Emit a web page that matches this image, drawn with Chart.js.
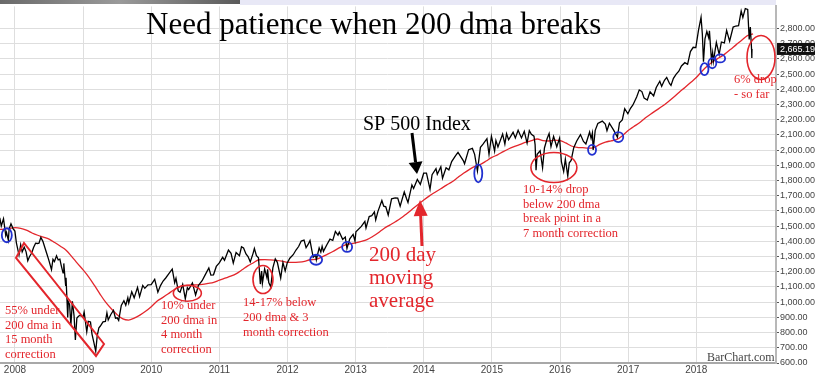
<!DOCTYPE html>
<html>
<head>
<meta charset="utf-8">
<script src="https://cdn.jsdelivr.net/npm/chart.js@4.4.1/dist/chart.umd.min.js"></script>
<style>
  html, body { margin: 0; padding: 0; background: #fff; }
  canvas { display: block; }
</style>
</head>
<body>
<canvas id="spx" width="815" height="376"></canvas>
<script>
// S&P 500 closes (about two a month, plus the swing highs/lows)
const spxDates = [
  '2007-10-11','2007-10-19','2007-10-31','2007-11-12','2007-11-16','2007-11-26','2007-11-30','2007-12-10','2007-12-21','2007-12-31',
  '2008-01-08','2008-01-22','2008-01-31','2008-02-08','2008-02-19','2008-02-29','2008-03-10','2008-03-19','2008-03-31','2008-04-10',
  '2008-04-21','2008-04-30','2008-05-09','2008-05-19','2008-05-30','2008-06-09','2008-06-20','2008-06-30','2008-07-15','2008-07-23',
  '2008-07-31','2008-08-11','2008-08-20','2008-08-29','2008-09-05','2008-09-15','2008-09-19','2008-09-29','2008-10-01','2008-10-10',
  '2008-10-13','2008-10-20','2008-10-27','2008-11-04','2008-11-13','2008-11-20','2008-11-28','2008-12-08','2008-12-16','2008-12-31',
  '2009-01-06','2009-01-20','2009-01-28','2009-02-09','2009-02-17','2009-02-27','2009-03-09','2009-03-17','2009-03-26','2009-04-03',
  '2009-04-17','2009-04-30','2009-05-08','2009-05-15','2009-05-29','2009-06-12','2009-06-23','2009-07-02','2009-07-10','2009-07-24',
  '2009-08-07','2009-08-17','2009-08-28','2009-09-02','2009-09-18','2009-10-01','2009-10-19','2009-10-30','2009-11-16','2009-11-27',
  '2009-12-14','2009-12-31','2010-01-19','2010-02-05','2010-02-19','2010-03-05','2010-03-19','2010-04-05','2010-04-23','2010-05-06',
  '2010-05-13','2010-05-25','2010-06-04','2010-06-18','2010-07-02','2010-07-13','2010-07-20','2010-08-09','2010-08-26','2010-09-10',
  '2010-09-30','2010-10-15','2010-11-05','2010-11-16','2010-11-30','2010-12-15','2010-12-31','2011-01-18','2011-01-28','2011-02-18',
  '2011-03-04','2011-03-16','2011-03-31','2011-04-18','2011-04-29','2011-05-10','2011-05-23','2011-06-03','2011-06-15','2011-06-30',
  '2011-07-07','2011-07-18','2011-07-29','2011-08-08','2011-08-15','2011-08-19','2011-08-31','2011-09-12','2011-09-16','2011-09-22',
  '2011-10-03','2011-10-14','2011-10-27','2011-11-07','2011-11-25','2011-12-07','2011-12-19','2011-12-30','2012-01-13','2012-01-31',
  '2012-02-15','2012-02-29','2012-03-15','2012-03-30','2012-04-10','2012-04-20','2012-05-01','2012-05-18','2012-05-31','2012-06-04',
  '2012-06-19','2012-06-28','2012-07-05','2012-07-12','2012-07-31','2012-08-16','2012-08-31','2012-09-14','2012-09-28','2012-10-05',
  '2012-10-23','2012-11-06','2012-11-15','2012-11-30','2012-12-18','2012-12-28','2013-01-02','2013-01-31','2013-02-19','2013-02-25',
  '2013-03-14','2013-03-28','2013-04-11','2013-04-18','2013-04-30','2013-05-21','2013-05-31','2013-06-11','2013-06-24','2013-07-12',
  '2013-07-31','2013-08-14','2013-08-27','2013-09-18','2013-09-30','2013-10-08','2013-10-29','2013-11-07','2013-11-27','2013-12-13',
  '2013-12-31','2014-01-15','2014-02-03','2014-02-14','2014-03-07','2014-03-14','2014-04-02','2014-04-11','2014-04-30','2014-05-15',
  '2014-05-30','2014-06-20','2014-07-03','2014-07-31','2014-08-07','2014-08-29','2014-09-18','2014-09-30','2014-10-15','2014-10-31',
  '2014-11-14','2014-12-05','2014-12-16','2014-12-29','2015-01-15','2015-01-22','2015-02-02','2015-02-27','2015-03-11','2015-03-20',
  '2015-03-31','2015-04-24','2015-05-06','2015-05-21','2015-06-08','2015-06-23','2015-07-08','2015-07-20','2015-07-31','2015-08-14',
  '2015-08-20','2015-08-25','2015-08-31','2015-09-16','2015-09-29','2015-10-09','2015-10-23','2015-11-03','2015-11-13','2015-11-27',
  '2015-12-14','2015-12-29','2016-01-08','2016-01-20','2016-01-29','2016-02-11','2016-02-19','2016-02-29','2016-03-15','2016-03-31',
  '2016-04-20','2016-05-06','2016-05-19','2016-06-08','2016-06-16','2016-06-23','2016-06-27','2016-07-08','2016-07-22','2016-08-15',
  '2016-08-31','2016-09-09','2016-09-22','2016-10-14','2016-11-04','2016-11-15','2016-11-30','2016-12-13','2016-12-30','2017-01-13',
  '2017-01-26','2017-02-15','2017-03-01','2017-03-15','2017-03-27','2017-04-13','2017-04-28','2017-05-17','2017-05-31','2017-06-19',
  '2017-06-29','2017-07-14','2017-07-26','2017-08-10','2017-08-18','2017-08-31','2017-09-15','2017-09-29','2017-10-13','2017-10-31',
  '2017-11-15','2017-11-30','2017-12-15','2017-12-29','2018-01-12','2018-01-26','2018-02-02','2018-02-08','2018-02-16','2018-02-26',
  '2018-03-08','2018-03-12','2018-03-23','2018-03-29','2018-04-02','2018-04-18','2018-05-03','2018-05-15','2018-05-31','2018-06-12',
  '2018-06-28','2018-07-17','2018-07-31','2018-08-15','2018-08-29','2018-09-07','2018-09-20','2018-10-03','2018-10-11','2018-10-17',
  '2018-10-24','2018-10-25','2018-10-26'
];
const spxClose = [
  1555,1501,1549,1439,1458,1407,1481,1515,1484,1468,
  1390,1310,1378,1331,1362,1331,1273,1299,1323,1360,
  1388,1386,1388,1426,1400,1361,1318,1280,1214,1282,
  1267,1305,1278,1283,1242,1193,1255,1106,1161,899,
  1003,985,848,1005,911,752,896,909,913,903,
  935,805,874,870,790,735,677,778,832,843,
  870,873,929,883,919,946,895,897,880,979,
  1010,980,1029,995,1068,1029,1097,1036,1110,1091,
  1114,1115,1150,1066,1109,1139,1159,1187,1217,1128,
  1157,1074,1065,1117,1022,1095,1083,1127,1047,1110,
  1141,1176,1225,1178,1180,1235,1258,1295,1276,1343,
  1321,1257,1326,1305,1364,1357,1317,1300,1265,1321,
  1353,1306,1292,1119,1204,1124,1219,1162,1216,1129,
  1099,1225,1285,1262,1159,1261,1206,1258,1289,1312,
  1343,1366,1402,1408,1358,1378,1405,1295,1310,1278,
  1357,1329,1367,1334,1379,1415,1406,1465,1441,1461,
  1413,1428,1353,1416,1446,1402,1462,1498,1531,1488,
  1563,1569,1593,1541,1597,1669,1631,1627,1573,1680,
  1686,1685,1631,1725,1682,1656,1771,1748,1807,1775,
  1848,1848,1742,1838,1878,1841,1890,1815,1884,1870,
  1924,1963,1985,1931,1910,2003,2011,1972,1862,2018,
  2039,2075,1972,2091,1993,2063,2020,2105,2040,2108,
  2068,2117,2080,2131,2080,2124,2046,2128,2104,2092,
  2036,1868,1972,1996,1884,2014,2075,2109,2023,2090,
  2022,2078,1922,1859,1940,1829,1917,1932,2016,2060,
  2102,2057,2040,2119,2077,2113,2001,2130,2175,2191,
  2171,2128,2177,2133,2085,2180,2199,2272,2239,2275,
  2297,2349,2396,2385,2342,2329,2384,2357,2412,2453,
  2419,2459,2478,2438,2425,2472,2500,2519,2553,2575,
  2564,2648,2676,2674,2786,2873,2762,2581,2732,2780,
  2739,2784,2588,2641,2582,2708,2630,2711,2705,2787,
  2716,2809,2816,2819,2914,2872,2931,2925,2728,2809,
  2656,2605,2665
];

// 200 day moving average, month-end readings
const dmaMonths = [
  '2007-09','2007-10','2007-11','2007-12',
  '2008-01','2008-02','2008-03','2008-04','2008-05','2008-06','2008-07','2008-08','2008-09','2008-10','2008-11','2008-12',
  '2009-01','2009-02','2009-03','2009-04','2009-05','2009-06','2009-07','2009-08','2009-09','2009-10','2009-11','2009-12',
  '2010-01','2010-02','2010-03','2010-04','2010-05','2010-06','2010-07','2010-08','2010-09','2010-10','2010-11','2010-12',
  '2011-01','2011-02','2011-03','2011-04','2011-05','2011-06','2011-07','2011-08','2011-09','2011-10','2011-11','2011-12',
  '2012-01','2012-02','2012-03','2012-04','2012-05','2012-06','2012-07','2012-08','2012-09','2012-10','2012-11','2012-12',
  '2013-01','2013-02','2013-03','2013-04','2013-05','2013-06','2013-07','2013-08','2013-09','2013-10','2013-11','2013-12',
  '2014-01','2014-02','2014-03','2014-04','2014-05','2014-06','2014-07','2014-08','2014-09','2014-10','2014-11','2014-12',
  '2015-01','2015-02','2015-03','2015-04','2015-05','2015-06','2015-07','2015-08','2015-09','2015-10','2015-11','2015-12',
  '2016-01','2016-02','2016-03','2016-04','2016-05','2016-06','2016-07','2016-08','2016-09','2016-10','2016-11','2016-12',
  '2017-01','2017-02','2017-03','2017-04','2017-05','2017-06','2017-07','2017-08','2017-09','2017-10','2017-11','2017-12',
  '2018-01','2018-02','2018-03','2018-04','2018-05','2018-06','2018-07','2018-08','2018-09','2018-10'
];
const dmaValues = [
  1478,1481,1485,1490,
  1486,1474,1455,1440,1428,1415,1392,1368,1342,1300,1255,1212,
  1165,1110,1052,998,955,918,890,882,895,915,940,970,
  1006,1030,1055,1082,1101,1109,1112,1114,1117,1123,1130,1145,
  1158,1171,1188,1213,1239,1259,1279,1280,1278,1275,1270,1262,
  1262,1264,1269,1279,1281,1296,1314,1333,1355,1374,1383,1390,
  1399,1411,1432,1457,1485,1507,1529,1553,1582,1612,1642,1672,
  1699,1723,1746,1770,1792,1820,1848,1872,1893,1906,1928,1952,
  1969,1990,2009,2024,2038,2052,2062,2073,2063,2060,2065,2063,
  2047,2027,2018,2016,2013,2017,2038,2053,2061,2070,2095,2129,
  2155,2180,2211,2238,2263,2288,2317,2348,2381,2412,2444,2477,
  2519,2554,2584,2607,2631,2661,2692,2722,2753,2765
];

const yearTicks = [2008, 2009, 2010, 2011, 2012, 2013, 2014, 2015, 2016, 2017, 2018];
const lastPrice = 2665.19;

// where the chart author circled things (x in years, y in index points)
const redRings = [
  { x: 2010.53, y: 1059, rx: 14, ry: 8 },
  { x: 2011.64, y: 1149, rx: 10, ry: 14 },
  { x: 2015.91, y: 1886, rx: 23, ry: 15 },
  { x: 2018.95, y: 2609, rx: 14, ry: 22 }
];
const blueRings = [
  { x: 2007.88, y: 1440, rx: 5, ry: 7 },
  { x: 2012.42, y: 1279, rx: 6, ry: 5 },
  { x: 2012.875, y: 1363, rx: 5, ry: 5 },
  { x: 2014.80, y: 1847, rx: 4, ry: 9 },
  { x: 2016.47, y: 2002, rx: 4, ry: 5 },
  { x: 2016.855, y: 2086, rx: 5, ry: 5 },
  { x: 2018.12, y: 2532, rx: 4, ry: 6 },
  { x: 2018.235, y: 2571, rx: 4, ry: 5 },
  { x: 2018.35, y: 2603, rx: 5, ry: 4 }
];

const CUM_DAYS = [0, 31, 59, 90, 120, 151, 181, 212, 243, 273, 304, 334];
function toYear(s) {
  const [y, m, d] = s.split('-').map(Number);
  return y + (CUM_DAYS[m - 1] + d - 0.5) / 365;
}
function monthEnd(s) {
  const [y, m] = s.split('-').map(Number);
  return y + m / 12;
}

const spxPoints = spxDates.map((d, i) => ({ x: toYear(d), y: spxClose[i] }));
const dmaPoints = dmaMonths.map((d, i) => ({ x: monthEnd(d), y: dmaValues[i] }));

const RED = '#e3262c';
const SERIF = '"Liberation Serif", "Times New Roman", serif';
const SANS = '"Liberation Sans", Arial, sans-serif';

// header strip left over from the screenshot
const headerStrip = {
  id: 'headerStrip',
  beforeDatasetsDraw(chart) {
    const ctx = chart.ctx;
    ctx.save();
    const g = ctx.createLinearGradient(0, 0, 240, 0);
    g.addColorStop(0, '#6a6a6a');
    g.addColorStop(0.5, '#9a9a9a');
    g.addColorStop(1, '#5a5a5a');
    ctx.fillStyle = g;
    ctx.fillRect(0, 0, 240, 4);
    ctx.fillStyle = '#e8e8f6';
    ctx.fillRect(240, 0, chart.chartArea.right - 240, 5);
    ctx.restore();
  }
};

function arrow(ctx, x1, y1, x2, y2, color, headLen, headW) {
  const ang = Math.atan2(y2 - y1, x2 - x1);
  const bx = x2 - headLen * Math.cos(ang), by = y2 - headLen * Math.sin(ang);
  ctx.strokeStyle = color;
  ctx.fillStyle = color;
  ctx.lineWidth = 3;
  ctx.beginPath();
  ctx.moveTo(x1, y1);
  ctx.lineTo(bx, by);
  ctx.stroke();
  ctx.beginPath();
  ctx.moveTo(x2, y2);
  ctx.lineTo(bx + headW / 2 * Math.sin(ang), by - headW / 2 * Math.cos(ang));
  ctx.lineTo(bx - headW / 2 * Math.sin(ang), by + headW / 2 * Math.cos(ang));
  ctx.closePath();
  ctx.fill();
}

function textLines(ctx, lines, x, y0, step) {
  lines.forEach((t, i) => ctx.fillText(t, x, y0 + i * step));
}

const notes = {
  id: 'notes',
  afterDraw(chart) {
    const ctx = chart.ctx;
    const xs = chart.scales.x, ys = chart.scales.y;
    ctx.save();

    // rings
    ctx.lineWidth = 1.6;
    ctx.strokeStyle = RED;
    redRings.forEach(r => {
      ctx.beginPath();
      ctx.ellipse(xs.getPixelForValue(r.x), ys.getPixelForValue(r.y), r.rx, r.ry, 0, 0, Math.PI * 2);
      ctx.stroke();
    });
    ctx.strokeStyle = '#2030d0';
    ctx.lineWidth = 1.8;
    blueRings.forEach(r => {
      ctx.beginPath();
      ctx.ellipse(xs.getPixelForValue(r.x), ys.getPixelForValue(r.y), r.rx, r.ry, 0, 0, Math.PI * 2);
      ctx.stroke();
    });

    // tilted box over the 2008 slide
    ctx.strokeStyle = RED;
    ctx.lineWidth = 2;
    ctx.beginPath();
    ctx.moveTo(16, 258);
    ctx.lineTo(24, 243);
    ctx.lineTo(104, 344);
    ctx.lineTo(96, 356);
    ctx.closePath();
    ctx.stroke();

    // arrows
    arrow(ctx, 412, 133, 417, 174, '#000', 12, 14);
    arrow(ctx, 422, 246, 420, 200, RED, 16, 14);

    // title
    ctx.fillStyle = '#000';
    ctx.textBaseline = 'alphabetic';
    ctx.textAlign = 'left';
    ctx.font = '31px ' + SERIF;
    ctx.fillText('Need patience when 200 dma breaks', 146, 34);
    ctx.font = '20px ' + SERIF;
    ctx.fillText('SP 500 Index', 363, 130);

    ctx.fillStyle = RED;
    ctx.font = '21px ' + SERIF;
    textLines(ctx, ['200 day', 'moving', 'average'], 369, 261, 23);

    ctx.font = '12.5px ' + SERIF;
    textLines(ctx, ['55% under', '200 dma in', '15 month', 'correction'], 5, 314, 14.7);
    textLines(ctx, ['10% under', '200 dma in', '4 month', 'correction'], 161, 309, 14.5);
    textLines(ctx, ['14-17% below', '200 dma & 3', 'month correction'], 243, 306, 15);
    textLines(ctx, ['10-14% drop', 'below 200 dma', 'break point in a', '7 month correction'], 523, 193, 14.7);
    textLines(ctx, ['6% drop', '- so far'], 734, 83, 15);

    ctx.fillStyle = '#444';
    ctx.font = '12px ' + SERIF;
    ctx.fillText('BarChart.com', 707, 361);

    // last price flag on the axis
    const py = ys.getPixelForValue(lastPrice);
    const ax = chart.chartArea.right + 1;
    ctx.fillStyle = '#111';
    ctx.fillRect(ax, py - 6, 815 - ax, 12);
    ctx.fillStyle = '#fff';
    ctx.font = '9px ' + SANS;
    ctx.textBaseline = 'middle';
    ctx.fillText(lastPrice.toLocaleString('en-US', { minimumFractionDigits: 2 }), ax + 3, py + 0.5);

    ctx.restore();
  }
};

new Chart(document.getElementById('spx'), {
  type: 'line',
  data: {
    datasets: [
      {
        label: 'S&P 500',
        data: spxPoints,
        borderColor: '#000',
        borderWidth: 1.3,
        pointRadius: 0,
        tension: 0
      },
      {
        label: '200 dma',
        data: dmaPoints,
        borderColor: RED,
        borderWidth: 1.3,
        pointRadius: 0,
        cubicInterpolationMode: 'monotone'
      }
    ]
  },
  options: {
    responsive: false,
    animation: false,
    devicePixelRatio: 1,
    layout: { padding: 0 },
    plugins: {
      legend: { display: false },
      tooltip: { enabled: false }
    },
    scales: {
      x: {
        type: 'linear',
        min: 2007.78,
        max: 2019.17,
        afterBuildTicks: (axis) => { axis.ticks = yearTicks.map(v => ({ value: v })); },
        afterFit: (axis) => { axis.height = 13; },
        ticks: {
          color: '#444',
          font: { family: SANS, size: 10 },
          padding: 1,
          maxRotation: 0,
          callback: (v) => String(v)
        },
        grid: { color: '#dedede', drawTicks: false },
        border: { color: '#a8a8a8', width: 2 }
      },
      y: {
        type: 'linear',
        position: 'right',
        min: 600,
        max: 2945,
        afterBuildTicks: (axis) => { axis.ticks = axis.ticks.filter(t => t.value % 100 === 0); },
        afterFit: (axis) => { axis.width = 39; },
        ticks: {
          stepSize: 100,
          color: '#444',
          font: { family: SANS, size: 9 },
          padding: 1,
          callback: (v) => v.toLocaleString('en-US', { minimumFractionDigits: 2 })
        },
        grid: { color: '#dedede', tickLength: 3, tickColor: '#555' },
        border: { color: '#b8b8b8', width: 2 }
      }
    }
  },
  plugins: [headerStrip, notes]
});
</script>
</body>
</html>
